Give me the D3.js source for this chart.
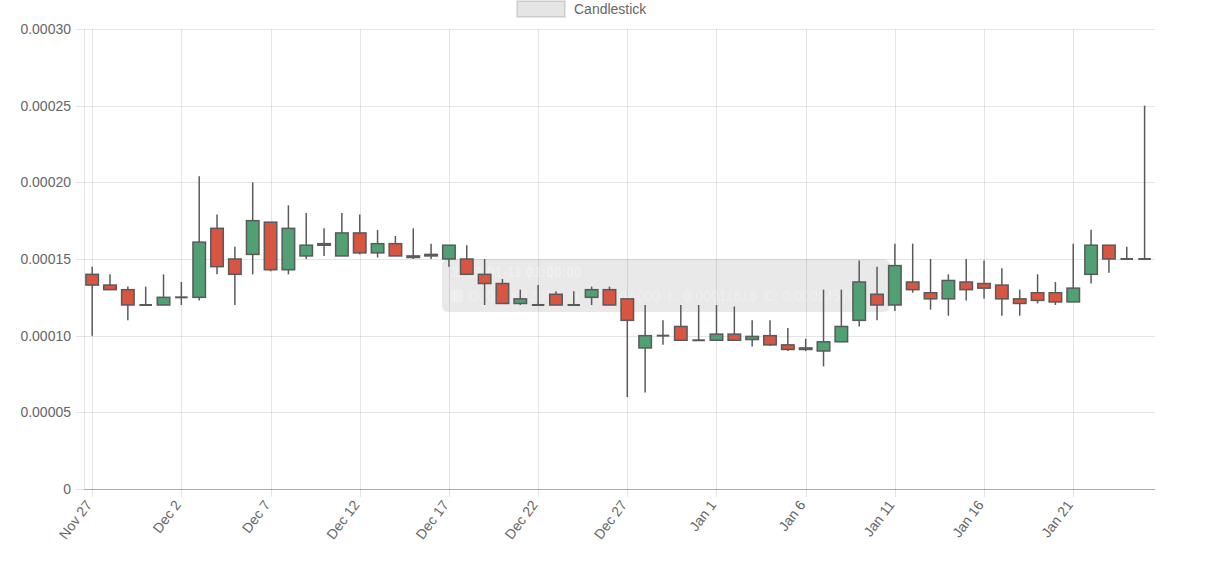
<!DOCTYPE html>
<html>
<head>
<meta charset="utf-8">
<script src="https://cdn.jsdelivr.net/npm/d3@7"></script>
<style>
  body { margin: 0; background: #fff; }
  text { font-family: "Liberation Sans", Arial, Helvetica, sans-serif; }
</style>
</head>
<body>
<div id="chart"></div>
<script>
// daily candles, Nov 27 2021 - Jan 25 2022
const days = [
  "2021-11-27","2021-11-28","2021-11-29","2021-11-30","2021-12-01","2021-12-02","2021-12-03","2021-12-04","2021-12-05","2021-12-06",
  "2021-12-07","2021-12-08","2021-12-09","2021-12-10","2021-12-11","2021-12-12","2021-12-13","2021-12-14","2021-12-15","2021-12-16",
  "2021-12-17","2021-12-18","2021-12-19","2021-12-20","2021-12-21","2021-12-22","2021-12-23","2021-12-24","2021-12-25","2021-12-26",
  "2021-12-27","2021-12-28","2021-12-29","2021-12-30","2021-12-31","2022-01-01","2022-01-02","2022-01-03","2022-01-04","2022-01-05",
  "2022-01-06","2022-01-07","2022-01-08","2022-01-09","2022-01-10","2022-01-11","2022-01-12","2022-01-13","2022-01-14","2022-01-15",
  "2022-01-16","2022-01-17","2022-01-18","2022-01-19","2022-01-20","2022-01-21","2022-01-22","2022-01-23","2022-01-24","2022-01-25"
];
const open = [
  0.000140,0.000133,0.000130,0.000120,0.000120,0.000125,0.000125,0.000170,0.000150,0.000153,
  0.000174,0.000143,0.000152,0.000159,0.000152,0.000167,0.000154,0.000160,0.000152,0.000152,
  0.000150,0.000150,0.000140,0.000134,0.000121,0.000120,0.000127,0.000120,0.000125,0.000130,
  0.000124,0.000092,0.000100,0.000106,0.000097,0.000097,0.000101,0.0000975,0.000100,0.000094,
  0.000091,0.000090,0.000096,0.000110,0.000127,0.000120,0.000135,0.000128,0.000124,0.000135,
  0.000134,0.000133,0.000124,0.000128,0.000128,0.000122,0.000140,0.000159,0.000150,0.000150
];
const high = [
  0.000145,0.000140,0.000132,0.000132,0.000140,0.000135,0.000204,0.000179,0.000158,0.000200,
  0.000174,0.000185,0.000180,0.000170,0.000180,0.000179,0.000169,0.000165,0.000170,0.000160,
  0.000159,0.000159,0.000150,0.000137,0.000130,0.000133,0.000129,0.000129,0.000132,0.000132,
  0.000124,0.000120,0.000110,0.000120,0.000120,0.000120,0.000119,0.000110,0.000110,0.000105,
  0.000098,0.000130,0.000130,0.000149,0.000145,0.000160,0.000160,0.000150,0.000140,0.000150,
  0.000149,0.000144,0.000130,0.000140,0.000135,0.000160,0.000169,0.000159,0.000158,0.000250
];
const low = [
  0.000100,0.000130,0.000110,0.000120,0.000120,0.000120,0.000123,0.000140,0.000120,0.000140,
  0.000142,0.000140,0.000150,0.000152,0.000152,0.000153,0.000151,0.000152,0.000150,0.000150,
  0.000145,0.000140,0.000120,0.000121,0.000120,0.000120,0.000120,0.000120,0.000120,0.000120,
  0.000060,0.000063,0.000094,0.000097,0.000097,0.000097,0.000097,0.000093,0.0000933,0.000090,
  0.000090,0.000080,0.000096,0.000106,0.000110,0.00011616,0.000128,0.000117,0.000113,0.000123,
  0.000124,0.000113,0.000113,0.000121,0.000120,0.000122,0.000134,0.000141,0.000150,0.000150
];
const close = [
  0.000133,0.000130,0.000120,0.000120,0.000125,0.000125,0.000161,0.000145,0.000140,0.000175,
  0.000143,0.000170,0.000159,0.000160,0.000167,0.000154,0.000160,0.000152,0.000151,0.000153,
  0.000159,0.000140,0.000134,0.000121,0.000124,0.000120,0.000120,0.000120,0.000130,0.000120,
  0.000110,0.000100,0.000100,0.000097,0.000097,0.000101,0.000097,0.0000995,0.000094,0.000091,
  0.000092,0.000096,0.000106,0.000135,0.000120,0.0001457,0.000130,0.000124,0.000136,0.000130,
  0.000131,0.000124,0.000121,0.000123,0.000122,0.000131,0.000159,0.000150,0.000150,0.000150
];
const xTickDays = ["2021-11-27","2021-12-02","2021-12-07","2021-12-12","2021-12-17","2021-12-22",
                   "2021-12-27","2022-01-01","2022-01-06","2022-01-11","2022-01-16","2022-01-21"];
const yTicks = [0, 0.00005, 0.0001, 0.00015, 0.0002, 0.00025, 0.0003];
const seriesName = "Candlestick";
// the faded hover box left over in the picture (Jan 11 candle)
const tipTitle = "2022-01-11 01:00:00";
const tipLine = "O: 0.00012000  H: 0.00016000  L: 0.00011616  C: 0.00014570";

const parse = d3.timeParse("%Y-%m-%d");
const data = days.map((d, i) => ({
  date: parse(d), o: open[i], h: high[i], l: low[i], c: close[i]
}));

const width = 1208, height = 567,
      margin = ({ top: 29, right: 53, bottom: 78, left: 84 });

const upColor = "rgb(80,160,115)", downColor = "rgb(215,85,65)", edge = "rgb(90,90,90)";

const svg = d3.select("#chart")
  .append("svg")
  .attr("width", width)
  .attr("height", height);

const first = data[0].date, last = data[data.length - 1].date;
const x = d3.scaleTime()
  .domain([d3.timeHour.offset(first, -11), d3.timeHour.offset(last, 14)])
  .range([margin.left, width - margin.right]);

const y = d3.scaleLinear()
  .domain([0, 0.0003])
  .range([height - margin.bottom, margin.top]);

// grid
const grid = svg.append("g").attr("stroke", "rgba(0,0,0,0.1)").attr("stroke-width", 1);
grid.selectAll(".hg")
  .data(yTicks)
  .join("line")
  .attr("x1", margin.left - 8)
  .attr("x2", width - margin.right)
  .attr("y1", d => Math.round(y(d)) + 0.5)
  .attr("y2", d => Math.round(y(d)) + 0.5);
grid.selectAll(".vg")
  .data(xTickDays.map(parse))
  .join("line")
  .attr("x1", d => Math.round(x(d)) + 0.5)
  .attr("x2", d => Math.round(x(d)) + 0.5)
  .attr("y1", margin.top)
  .attr("y2", height - margin.bottom + 8);
grid.append("line")
  .attr("x1", margin.left + 0.5).attr("x2", margin.left + 0.5)
  .attr("y1", margin.top).attr("y2", height - margin.bottom);

// y axis labels
const yAxis = svg.append("g")
  .attr("transform", `translate(${margin.left},0)`)
  .call(d3.axisLeft(y)
    .tickValues(yTicks)
    .tickFormat(d => d === 0 ? "0" : d3.format(".5f")(d))
    .tickSize(8)
    .tickPadding(5));
yAxis.select(".domain").remove();
yAxis.selectAll(".tick line").remove();
yAxis.selectAll("text").attr("fill", "#666").style("font-size", "14px");

// x axis labels, rotated
const xAxis = svg.append("g")
  .attr("transform", `translate(0,${height - margin.bottom})`)
  .call(d3.axisBottom(x)
    .tickValues(xTickDays.map(parse))
    .tickFormat(d3.timeFormat("%b %-d"))
    .tickSize(8));
xAxis.select(".domain").remove();
xAxis.selectAll(".tick line").remove();
xAxis.selectAll("text")
  .attr("fill", "#666")
  .style("font-size", "14px")
  .attr("text-anchor", "end")
  .attr("dy", "0.35em")
  .attr("y", 0)
  .attr("transform", "translate(-4,13) rotate(-53)");

// x axis base line
svg.append("line")
  .attr("x1", margin.left).attr("x2", width - margin.right)
  .attr("y1", y(0) + 0.5).attr("y2", y(0) + 0.5)
  .attr("stroke", "rgba(0,0,0,0.25)");

// faded tooltip box
const tip = svg.append("g");
tip.append("rect")
  .attr("x", 442).attr("y", 259)
  .attr("width", 448).attr("height", 53)
  .attr("rx", 6)
  .attr("fill", "rgba(0,0,0,0.085)");
tip.append("path")
  .attr("d", "M890,279 L897,285.5 L890,292 Z")
  .attr("fill", "rgba(0,0,0,0.085)");
tip.append("text")
  .attr("x", 451).attr("y", 277)
  .attr("fill", "rgba(255,255,255,0.3)")
  .style("font-size", "14px").style("font-weight", "bold")
  .text(tipTitle);
tip.append("rect")
  .attr("x", 451).attr("y", 290).attr("width", 12).attr("height", 12)
  .attr("fill", "rgba(255,255,255,0.3)");
tip.append("text")
  .attr("x", 468).attr("y", 301)
  .attr("fill", "rgba(255,255,255,0.3)")
  .style("font-size", "14px")
  .attr("xml:space", "preserve")
  .text(tipLine);

// candles
const bodyW = 12.5;
const candle = svg.selectAll(".candle")
  .data(data)
  .join("g")
  .attr("class", "candle");

candle.append("line")
  .attr("x1", d => x(d.date))
  .attr("x2", d => x(d.date))
  .attr("y1", d => y(d.h))
  .attr("y2", d => y(d.l))
  .attr("stroke", edge)
  .attr("stroke-width", 1.5);

candle.filter(d => d.o !== d.c)
  .append("rect")
  .attr("x", d => x(d.date) - bodyW / 2)
  .attr("width", bodyW)
  .attr("y", d => y(Math.max(d.o, d.c)))
  .attr("height", d => Math.max(1, Math.abs(y(d.o) - y(d.c))))
  .attr("fill", d => d.c > d.o ? upColor : downColor)
  .attr("stroke", edge)
  .attr("stroke-width", 1.5);

candle.filter(d => d.o === d.c)
  .append("line")
  .attr("x1", d => x(d.date) - bodyW / 2)
  .attr("x2", d => x(d.date) + bodyW / 2)
  .attr("y1", d => y(d.o))
  .attr("y2", d => y(d.o))
  .attr("stroke", edge)
  .attr("stroke-width", 2);

// legend
const legend = svg.append("g");
legend.append("rect")
  .attr("x", 517).attr("y", 1)
  .attr("width", 48).attr("height", 16)
  .attr("fill", "rgba(0,0,0,0.1)")
  .attr("stroke", "rgba(0,0,0,0.1)")
  .attr("stroke-width", 2);
legend.append("text")
  .attr("x", 574).attr("y", 14)
  .attr("fill", "#666")
  .style("font-size", "14px")
  .text(seriesName);
</script>
</body>
</html>
